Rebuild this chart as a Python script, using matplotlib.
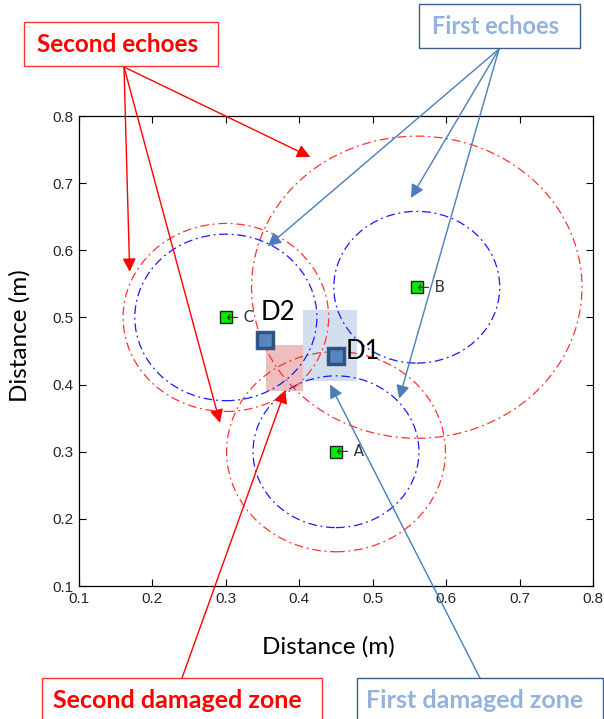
import matplotlib
matplotlib.use("Agg")
import matplotlib.pyplot as plt
from matplotlib.patches import Circle, Rectangle

# ---- data ----
sensor_names = ["A", "B", "C"]
sensor_x = [0.45, 0.56, 0.30]
sensor_y = [0.30, 0.545, 0.50]
first_echo_radius = [0.113, 0.113, 0.124]
second_echo_radius = [0.149, 0.225, 0.140]

damage_names = ["D1", "D2"]
damage_x = [0.45, 0.353]
damage_y = [0.443, 0.466]

first_zone = [0.405, 0.479, 0.405, 0.511]   # x0, x1, y0, y1
second_zone = [0.355, 0.405, 0.391, 0.459]

ticks = [0.1, 0.2, 0.3, 0.4, 0.5, 0.6, 0.7, 0.8]
tick_labels = ["0.1", "0.2", "0.3", "0.4", "0.5", "0.6", "0.7", "0.8"]

second_echo_targets_x = [0.415, 0.169, 0.292]
second_echo_targets_y = [0.739, 0.568, 0.343]
first_echo_targets_x = [0.357, 0.552, 0.536]
first_echo_targets_y = [0.606, 0.678, 0.379]
second_zone_target = [0.381, 0.392]
first_zone_target = [0.442, 0.400]

W, H = 604, 719
fig = plt.figure(figsize=(W / 100, H / 100), dpi=100)
fig.patch.set_facecolor("white")

def fx(px):
    return px / W

def fy(py):
    return 1 - py / H

ax = fig.add_axes([fx(79), fy(586), fx(593) - fx(79), fy(116) - fy(586)])
ax.set_xlim(0.1, 0.8)
ax.set_ylim(0.1, 0.8)
ax.set_xticks(ticks)
ax.set_xticklabels(tick_labels)
ax.set_yticks(ticks)
ax.set_yticklabels(tick_labels)
ax.tick_params(direction="in", top=True, right=True, length=5, width=0.8,
               labelsize=11, pad=4)
for lab in ax.get_xticklabels() + ax.get_yticklabels():
    lab.set_fontfamily("Liberation Sans")
    lab.set_color("#1f2633")
for s in ax.spines.values():
    s.set_linewidth(0.9)

# damaged zones
ax.add_patch(Rectangle((first_zone[0], first_zone[2]), first_zone[1] - first_zone[0],
                       first_zone[3] - first_zone[2], facecolor="#c5d5ea", alpha=0.75,
                       edgecolor="none", zorder=1))
ax.add_patch(Rectangle((second_zone[0], second_zone[2]), second_zone[1] - second_zone[0],
                       second_zone[3] - second_zone[2], facecolor="#e59a9a", alpha=0.65,
                       edgecolor="none", zorder=1))

dashdot = (0, (7, 3, 1.5, 3))
for x, y, r1, r2 in zip(sensor_x, sensor_y, first_echo_radius, second_echo_radius):
    ax.add_patch(Circle((x, y), r1, fill=False, edgecolor="#1a1aff", lw=0.9,
                        linestyle=dashdot, zorder=2))
    ax.add_patch(Circle((x, y), r2, fill=False, edgecolor="#ff3333", lw=0.9,
                        linestyle=dashdot, zorder=2))

# sensors
ax.plot(sensor_x, sensor_y, linestyle="none", marker="s", markersize=9,
        markerfacecolor="#00ee00", markeredgecolor="#222222", markeredgewidth=1.0, zorder=5)
for n, x, y in zip(sensor_names, sensor_x, sensor_y):
    ax.text(x, y, "\u2190 " + n, ha="left", va="center", fontsize=11,
            color="#333333", family="DejaVu Sans", zorder=6)

# damages
ax.plot(damage_x, damage_y, linestyle="none", marker="s", markersize=12,
        markerfacecolor="#4f81bd", markeredgecolor="#2c4d7c", markeredgewidth=2.5,
        alpha=0.95, zorder=6)
label_offsets = [(7, 3), (-3, 20)]
for n, x, y, off in zip(damage_names, damage_x, damage_y, label_offsets):
    ax.annotate(n, (x, y), xytext=off, textcoords="offset points", ha="left",
                va="center", fontsize=18.5, family="Lato", color="black", zorder=7)

ax.set_xlabel("Distance (m)", fontsize=17.5, family="Lato", va="center")
ax.set_ylabel("Distance (m)", fontsize=17.5, family="Lato", va="center")
ax.xaxis.set_label_coords((328 - 79) / 514, -(647 - 586) / 470)
ax.yaxis.set_label_coords((20 - 79) / 514, (586 - 336) / 470)

# ---- annotation boxes ----
def box(x0, y0, x1, y1, ec):
    fig.patches.append(Rectangle((fx(x0), fy(y1)), fx(x1) - fx(x0), fy(y0) - fy(y1),
                                 transform=fig.transFigure, fill=False,
                                 edgecolor=ec, lw=1.0, figure=fig))

box(24, 22, 218, 66, "#ff3333")
fig.text(fx(118), fy(44), "Second echoes", ha="center", va="center", fontsize=17.5,
         fontweight="bold", family="Lato", color="#ff0000")
box(419, 4, 580, 48, "#3b5e8c")
fig.text(fx(496), fy(27), "First echoes", ha="center", va="center", fontsize=17,
         fontweight="bold", family="Lato", color="#93b3dc")
box(42, 678, 322, 730, "#ff3333")
fig.text(fx(177), fy(700), "Second damaged zone", ha="center", va="center", fontsize=18,
         fontweight="bold", family="Lato", color="#ff0000")
box(357, 678, 603, 730, "#3b5e8c")
fig.text(fx(475), fy(700), "First damaged zone", ha="center", va="center", fontsize=18,
         fontweight="bold", family="Lato", color="#93b3dc")

red_arrow = dict(arrowstyle="-|>", color="#ff0000", lw=1.0, mutation_scale=20,
                 shrinkA=0, shrinkB=0)
blue_arrow = dict(arrowstyle="-|>", color="#4a7ebb", lw=1.0, mutation_scale=20,
                  shrinkA=0, shrinkB=0)

for x, y in zip(second_echo_targets_x, second_echo_targets_y):
    ax.annotate("", xy=(x, y), xytext=(fx(124), fy(67)), textcoords="figure fraction",
                arrowprops=red_arrow, annotation_clip=False, zorder=8)
for x, y in zip(first_echo_targets_x, first_echo_targets_y):
    ax.annotate("", xy=(x, y), xytext=(fx(499), fy(49)), textcoords="figure fraction",
                arrowprops=blue_arrow, annotation_clip=False, zorder=8)
ax.annotate("", xy=tuple(second_zone_target), xytext=(fx(182), fy(678)),
            textcoords="figure fraction", arrowprops=red_arrow, annotation_clip=False, zorder=8)
ax.annotate("", xy=tuple(first_zone_target), xytext=(fx(480), fy(678)),
            textcoords="figure fraction", arrowprops=blue_arrow, annotation_clip=False, zorder=8)

fig.savefig("out.png", dpi=100)
